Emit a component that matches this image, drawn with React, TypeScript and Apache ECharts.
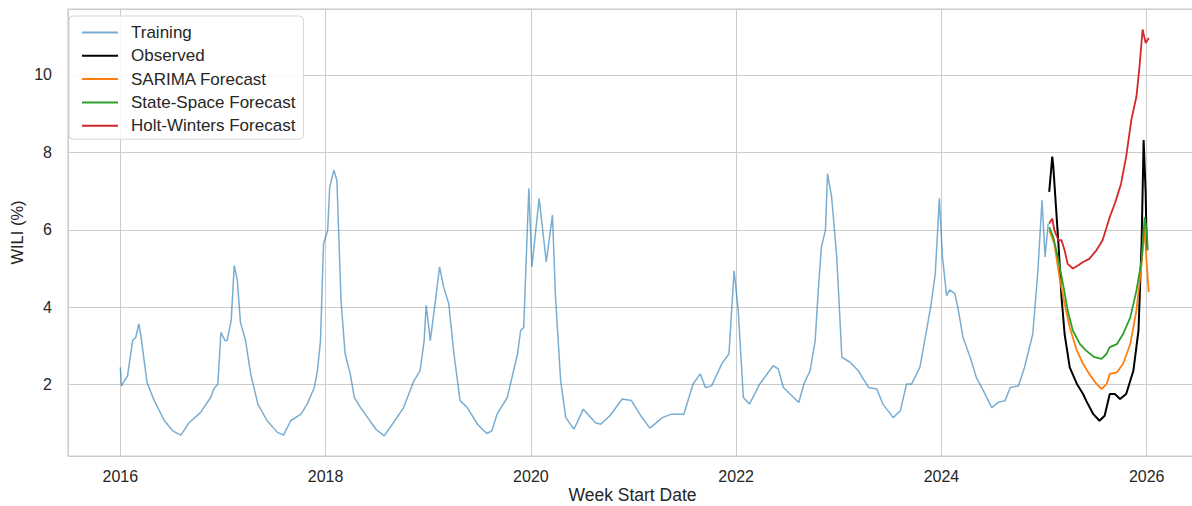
import React, { useEffect, useRef } from 'react';
import * as echarts from 'echarts';

// x positions are week start dates expressed as decimal years
const trainingYears = [
  2016.0, 2016.01, 2016.07, 2016.12, 2016.15, 2016.18, 2016.2, 2016.26, 2016.33, 2016.43, 2016.51, 2016.59,
  2016.67, 2016.78, 2016.88, 2016.91, 2016.95, 2016.98, 2017.02, 2017.04, 2017.08, 2017.11, 2017.14, 2017.17,
  2017.22, 2017.27, 2017.34, 2017.43, 2017.53, 2017.59, 2017.66, 2017.76, 2017.82, 2017.89, 2017.92, 2017.95,
  2017.98, 2018.02, 2018.04, 2018.08, 2018.11, 2018.15, 2018.19, 2018.24, 2018.28, 2018.34, 2018.41, 2018.49,
  2018.57, 2018.65, 2018.76, 2018.86, 2018.92, 2018.96, 2018.98, 2019.02, 2019.07, 2019.11, 2019.15, 2019.2,
  2019.25, 2019.31, 2019.38, 2019.48, 2019.57, 2019.62, 2019.67, 2019.77, 2019.87, 2019.9, 2019.93, 2019.98,
  2020.01, 2020.08, 2020.15, 2020.21, 2020.24, 2020.29, 2020.34, 2020.42, 2020.51, 2020.63, 2020.68, 2020.77,
  2020.89, 2020.98, 2021.07, 2021.16, 2021.28, 2021.37, 2021.49, 2021.58, 2021.65, 2021.7, 2021.76, 2021.86,
  2021.93, 2021.98, 2022.02, 2022.07, 2022.13, 2022.23, 2022.36, 2022.41, 2022.46, 2022.56, 2022.61, 2022.66,
  2022.72, 2022.77, 2022.8, 2022.83, 2022.87, 2022.89, 2022.93, 2022.98, 2023.03, 2023.11, 2023.19, 2023.29,
  2023.37, 2023.43, 2023.53, 2023.6, 2023.66, 2023.71, 2023.79, 2023.86, 2023.9, 2023.94, 2023.98, 2024.01,
  2024.05, 2024.08, 2024.13, 2024.16, 2024.21, 2024.28, 2024.34, 2024.41, 2024.49, 2024.55, 2024.62, 2024.67,
  2024.75, 2024.81, 2024.89, 2024.94, 2024.98, 2025.01, 2025.04,
];
const trainingValues = [
  2.45, 1.97, 2.23, 3.14, 3.22, 3.57, 3.27, 2.06, 1.59, 1.07, 0.81, 0.7,
  1.02, 1.28, 1.67, 1.89, 2.02, 3.35, 3.14, 3.14, 3.66, 5.08, 4.69, 3.61,
  3.14, 2.28, 1.5, 1.07, 0.77, 0.7, 1.07, 1.24, 1.5, 1.93, 2.36, 3.14,
  5.64, 5.99, 7.1, 7.54, 7.28, 4.17, 2.8, 2.28, 1.67, 1.41, 1.15, 0.85,
  0.68, 0.98, 1.41, 2.1, 2.36, 3.14, 4.05, 3.14, 4.17, 5.04, 4.52, 4.09,
  2.8, 1.59, 1.41, 0.98, 0.74, 0.81, 1.24, 1.67, 2.8, 3.4, 3.48, 7.07,
  5.04, 6.81, 5.17, 6.38, 4.26, 2.1, 1.15, 0.85, 1.37, 1.02, 0.98, 1.2,
  1.63, 1.59, 1.2, 0.88, 1.15, 1.24, 1.24, 2.02, 2.28, 1.93, 1.97, 2.54,
  2.8, 4.95, 3.92, 1.67, 1.5, 2.02, 2.49, 2.41, 1.93, 1.67, 1.54, 2.02,
  2.36, 3.14, 4.43, 5.55, 5.99, 7.45, 6.85, 5.3, 2.71, 2.58, 2.36, 1.93,
  1.89, 1.5, 1.15, 1.33, 2.02, 2.02, 2.45, 3.48, 4.09, 4.87, 6.81, 5.3,
  4.3, 4.45, 4.35, 4.0, 3.22, 2.71, 2.19, 1.84, 1.41, 1.54, 1.59, 1.93,
  1.97, 2.45, 3.31, 4.95, 6.76, 5.3, 6.16,
];

const observedYears = [
  2025.05, 2025.08, 2025.09, 2025.14, 2025.17, 2025.2, 2025.25, 2025.32, 2025.38, 2025.41, 2025.48, 2025.54,
  2025.59, 2025.64, 2025.69, 2025.74, 2025.8, 2025.87, 2025.92, 2025.95, 2025.97, 2025.99, 2026.0,
];
const observedValues = [
  6.98, 7.89, 7.63, 5.64, 4.26, 3.31, 2.45, 2.02, 1.76, 1.59, 1.24, 1.07,
  1.2, 1.76, 1.76, 1.63, 1.76, 2.36, 3.4, 5.64, 8.32, 6.94, 5.47,
];

const sarimaYears = [
  2025.05, 2025.1, 2025.15, 2025.2, 2025.25, 2025.32, 2025.38, 2025.44, 2025.51, 2025.56, 2025.61, 2025.64,
  2025.71, 2025.77, 2025.84, 2025.9, 2025.95, 2025.98, 2026.0, 2026.02,
];
const sarimaValues = [
  5.99, 5.64, 4.78, 4.09, 3.48, 2.88, 2.54, 2.28, 2.02, 1.89, 2.02, 2.28,
  2.32, 2.54, 3.05, 3.92, 5.12, 6.07, 5.12, 4.39,
];

const stateSpaceYears = [
  2025.05, 2025.09, 2025.14, 2025.19, 2025.23, 2025.28, 2025.35, 2025.41, 2025.49, 2025.56, 2025.61, 2025.64,
  2025.71, 2025.77, 2025.84, 2025.9, 2025.95, 2025.98, 2026.0, 2026.01,
];
const stateSpaceValues = [
  6.07, 5.81, 5.21, 4.52, 3.92, 3.4, 3.05, 2.88, 2.71, 2.67, 2.8, 2.97,
  3.05, 3.31, 3.74, 4.43, 5.21, 6.33, 5.99, 5.47,
];

const holtWintersYears = [
  2025.05, 2025.08, 2025.1, 2025.14, 2025.17, 2025.2, 2025.23, 2025.28, 2025.33, 2025.38, 2025.44, 2025.51,
  2025.57, 2025.64, 2025.69, 2025.75, 2025.8, 2025.85, 2025.9, 2025.93, 2025.96, 2025.99, 2026.02,
];
const holtWintersValues = [
  6.16, 6.29, 5.99, 5.73, 5.73, 5.47, 5.12, 5.0, 5.08, 5.17, 5.25, 5.47,
  5.73, 6.33, 6.68, 7.19, 7.89, 8.83, 9.44, 10.22, 11.17, 10.82, 10.95,
];

const seriesNames = ['Training', 'Observed', 'SARIMA Forecast', 'State-Space Forecast', 'Holt-Winters Forecast'];

const pairs = (xs: number[], ys: number[]) => xs.map((x, i) => [x, ys[i]]);

const FONT = '"Liberation Sans", Arial, sans-serif';
const TEXT = '#262626';
const GRID = '#cccccc';

export default function App() {
  const ref = useRef<HTMLDivElement>(null);

  useEffect(() => {
    const chart = echarts.init(ref.current!, null, { renderer: 'svg' });
    const isEvenInt = (v: number) => Math.abs(v - Math.round(v)) < 1e-6 && Math.round(v) % 2 === 0;
    chart.setOption({
      animation: false,
      backgroundColor: '#ffffff',
      textStyle: { fontFamily: FONT },
      grid: {
        left: 68,
        right: -5,
        top: 9,
        bottom: 50,
        show: true,
        borderColor: GRID,
        borderWidth: 1.2,
        backgroundColor: 'transparent',
        containLabel: false,
        outerBoundsMode: 'none',
      },
      legend: {
        orient: 'vertical',
        left: 69,
        top: 16,
        data: seriesNames,
        icon: 'rect',
        itemWidth: 36,
        itemHeight: 2,
        itemGap: 6.3,
        padding: [8, 8, 5, 13],
        borderColor: '#d6d6d6',
        borderWidth: 1,
        borderRadius: 4,
        backgroundColor: 'rgba(255,255,255,0.85)',
        textStyle: { fontFamily: FONT, fontSize: 17, color: TEXT, lineHeight: 16, padding: [0, 0, 0, 8] },
      },
      xAxis: {
        type: 'value',
        min: 2015.49,
        max: 2026.49,
        splitNumber: 5,
        axisLine: { show: false },
        axisTick: { show: false },
        splitLine: { show: true, lineStyle: { color: GRID, width: 1 } },
        axisLabel: {
          margin: 12,
          fontSize: 16,
          color: TEXT,
          fontFamily: FONT,
          showMinLabel: false,
          showMaxLabel: false,
          formatter: (v: number) => (isEvenInt(v) ? String(Math.round(v)) : ''),
        },
        name: 'Week Start Date',
        nameLocation: 'middle',
        nameMoveOverlap: false,
        nameGap: 30,
        nameTextStyle: { fontSize: 17.5, color: TEXT, fontFamily: FONT, lineHeight: 18 },
      },
      yAxis: {
        type: 'value',
        min: 0.16,
        max: 11.7,
        splitNumber: 5,
        axisLine: { show: false },
        axisTick: { show: false },
        splitLine: { show: true, lineStyle: { color: GRID, width: 1 } },
        axisLabel: {
          margin: 16,
          fontSize: 16,
          color: TEXT,
          fontFamily: FONT,
          showMinLabel: false,
          showMaxLabel: false,
          formatter: (v: number) => (isEvenInt(v) && v > 0 ? String(Math.round(v)) : ''),
        },
        name: 'WILI (%)',
        nameLocation: 'middle',
        nameMoveOverlap: false,
        nameGap: 43,
        nameTextStyle: { fontSize: 16.5, color: TEXT, fontFamily: FONT },
      },
      series: [
        {
          name: seriesNames[0],
          type: 'line',
          data: pairs(trainingYears, trainingValues),
          symbol: 'none',
          lineStyle: { color: '#1f77b4', width: 1.5, opacity: 0.6 },
          itemStyle: { color: '#79add2' },
        },
        {
          name: seriesNames[1],
          type: 'line',
          data: pairs(observedYears, observedValues),
          symbol: 'none',
          lineStyle: { color: '#000000', width: 2 },
          itemStyle: { color: '#000000' },
        },
        {
          name: seriesNames[2],
          type: 'line',
          data: pairs(sarimaYears, sarimaValues),
          symbol: 'none',
          lineStyle: { color: '#ff7f0e', width: 1.8 },
          itemStyle: { color: '#ff7f0e' },
        },
        {
          name: seriesNames[3],
          type: 'line',
          data: pairs(stateSpaceYears, stateSpaceValues),
          symbol: 'none',
          lineStyle: { color: '#2ca02c', width: 1.8 },
          itemStyle: { color: '#2ca02c' },
        },
        {
          name: seriesNames[4],
          type: 'line',
          data: pairs(holtWintersYears, holtWintersValues),
          symbol: 'none',
          lineStyle: { color: '#d62728', width: 1.8 },
          itemStyle: { color: '#d62728' },
        },
      ],
    });
    return () => chart.dispose();
  }, []);

  return (
    <div
      ref={ref}
      style={{ position: 'fixed', left: 0, top: 0, width: 1192, height: 506, background: '#ffffff' }}
    />
  );
}
